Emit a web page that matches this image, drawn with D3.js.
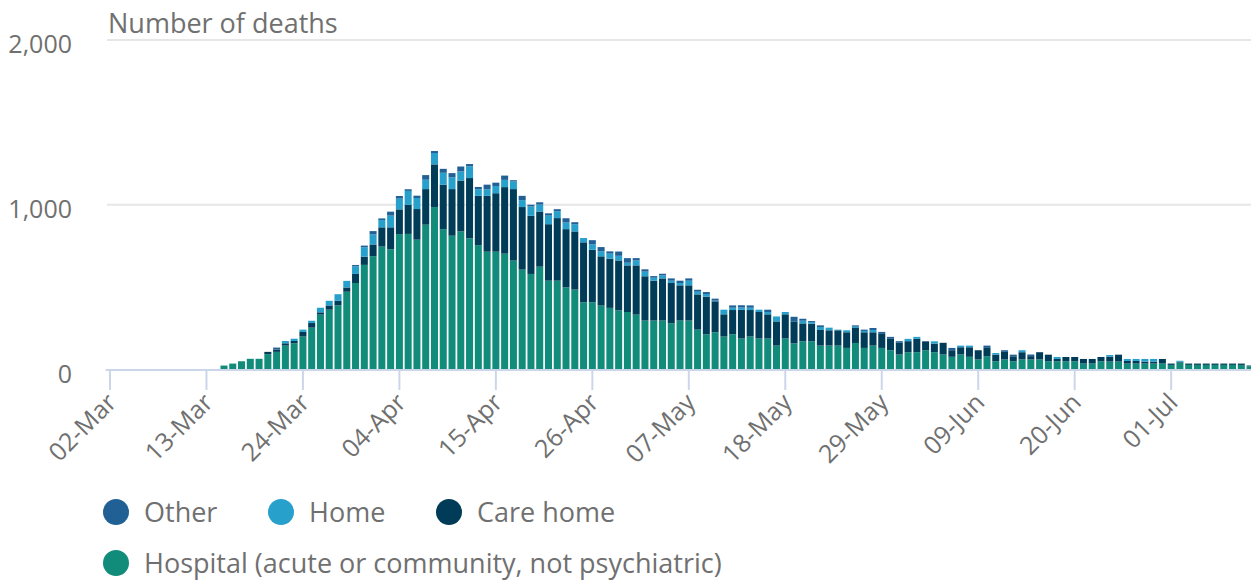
<!DOCTYPE html>
<html>
<head>
  <meta charset="utf-8">
  <script src="https://d3js.org/d3.v7.min.js"></script>
  <style>
  body{
    margin:0;
    background:#fff;
  }
  text{
    font-family:"Open Sans", sans-serif;
    fill:#707070;
  }
  .grid line{
    stroke:#e6e6e6;
    stroke-width:2px;
  }
  </style>
</head>
<body>
  <svg width="1251" height="582"></svg>
<script>
// daily deaths by place of death, 02-Mar to 10-Jul
var startDate = new Date(2020, 2, 2);
var nDays = 131;

var hospital = [0,0,0,0,0,0,0,0,0,0,0,0,0,24,36,50,65,65,93,107,
  145,159,200,254,333,363,389,472,525,635,688,746,730,822,823,788,879,986,852,812,
  838,796,755,715,715,703,661,606,580,624,539,539,499,485,408,408,388,374,359,349,
  333,297,297,297,281,297,297,242,214,226,200,214,188,200,188,188,145,188,159,171,
  171,145,145,145,131,161,131,145,131,117,91,105,105,117,105,91,77,91,77,61,
  81,50,61,50,61,61,61,50,50,50,50,36,36,50,48,48,36,36,36,36,
  36,28,42,28,28,28,28,28,28,28,20];

var careHome = [0,0,0,0,0,0,0,0,0,0,0,0,0,0,0,0,0,0,14,14,
  14,14,28,28,14,26,28,26,55,50,71,117,133,150,176,186,216,259,269,283,
  309,366,299,339,355,404,434,380,353,335,343,380,353,353,364,319,299,299,303,283,
  299,269,242,256,244,214,214,214,228,188,135,147,174,161,161,147,147,147,133,109,
  107,95,93,93,95,91,95,81,85,69,71,67,81,54,52,71,40,44,58,56,
  50,40,46,30,44,20,44,40,14,26,26,28,28,26,30,42,16,16,12,12,
  28,8,5,8,8,8,8,8,8,8,4];

var home = [0,0,0,0,0,0,0,0,0,0,0,0,0,0,0,0,0,0,0,0,
  14,14,14,14,28,28,40,40,46,57,61,44,71,65,85,67,57,69,73,71,
  55,71,40,40,44,44,46,42,57,42,52,42,40,44,26,32,30,30,28,16,
  30,28,18,18,14,14,28,16,16,4,28,14,14,14,14,14,30,14,0,16,
  10,18,16,4,12,8,8,14,0,0,0,14,12,0,14,0,0,10,10,0,
  0,10,0,0,12,0,0,0,12,0,0,0,0,0,10,0,12,12,16,16,
  0,0,6,0,0,0,0,0,0,0,0];

var other = [0,0,0,0,0,0,0,0,0,0,0,0,0,0,0,0,0,0,0,12,
  0,0,0,0,0,0,0,0,8,10,20,10,24,16,10,14,28,12,24,26,
  30,14,14,28,20,26,8,26,10,14,14,12,26,12,0,26,26,14,26,28,
  14,14,10,10,14,14,14,12,12,12,0,14,14,14,0,14,0,0,28,12,
  6,10,0,0,0,8,8,12,12,12,10,0,0,0,0,0,14,0,0,0,
  14,0,10,10,0,10,0,0,0,0,0,0,0,0,0,0,0,0,0,0,
  0,0,0,0,0,0,0,0,0,0,0];

var tickLabels = ["02-Mar","13-Mar","24-Mar","04-Apr","15-Apr","26-Apr",
  "07-May","18-May","29-May","09-Jun","20-Jun","01-Jul"];
var yTicks = [0, 1000, 2000];

var seriesKeys = ["hospital","careHome","home","other"];
var colours = {hospital:"#118c7b", careHome:"#003c57", home:"#27a0cc", other:"#206095"};
var legendItems = [
  {key:"other", label:"Other"},
  {key:"home", label:"Home"},
  {key:"careHome", label:"Care home"},
  {key:"hospital", label:"Hospital (acute or community, not psychiatric)"}
];

var fmt = d3.timeFormat("%d-%b");
var days = d3.range(nDays).map(function(i){ return d3.timeDay.offset(startDate, i); });
var data = days.map(function(d, i){
  return {day:fmt(d), hospital:hospital[i], careHome:careHome[i], home:home[i], other:other[i]};
});

var svg = d3.select("svg");
var plotLeft = 105.6, step = 8.77;

var x = d3.scaleBand()
  .domain(data.map(function(d){ return d.day; }))
  .range([plotLeft, plotLeft + step * nDays])
  .paddingInner(0.2)
  .paddingOuter(0.1);

var y = d3.scaleLinear().domain([0, 2000]).range([369.5, 40]);

// gridlines (not at zero)
svg.append("g").attr("class","grid")
  .selectAll("line")
  .data(yTicks.filter(function(t){ return t > 0; }))
  .enter().append("line")
  .attr("x1", 107).attr("x2", 1251)
  .attr("y1", function(d){ return y(d); })
  .attr("y2", function(d){ return y(d); });

// y labels
svg.append("g")
  .selectAll("text")
  .data(yTicks)
  .enter().append("text")
  .attr("x", 72)
  .attr("y", function(d){ return y(d) + 13; })
  .attr("text-anchor","end")
  .style("font-size","25px")
  .text(function(d){ return d3.format(",")(d); });

svg.append("text")
  .attr("x", 108)
  .attr("y", 33)
  .style("font-size","27px")
  .text("Number of deaths");

// stacked bars
var stacked = d3.stack().keys(seriesKeys)(data);

svg.append("g")
  .selectAll("g")
  .data(stacked)
  .enter().append("g")
  .attr("fill", function(s){ return colours[s.key]; })
  .selectAll("rect")
  .data(function(s){ return s; })
  .enter().append("rect")
  .attr("x", function(d){ return x(d.data.day); })
  .attr("y", function(d){ return y(d[1]); })
  .attr("width", x.bandwidth())
  .attr("height", function(d){ return y(d[0]) - y(d[1]); });

// x axis
var xAxis = svg.append("g");
xAxis.append("line")
  .attr("x1", plotLeft).attr("x2", 1251)
  .attr("y1", 370).attr("y2", 370)
  .attr("stroke","#ccd6eb").attr("stroke-width",2);

var ticks = xAxis.selectAll(".tick")
  .data(tickLabels)
  .enter().append("g")
  .attr("class","tick")
  .attr("transform", function(d){ return "translate(" + (x(d) + x.bandwidth() / 2) + ",0)"; });

ticks.append("line")
  .attr("y1", 370).attr("y2", 390)
  .attr("stroke","#ccd6eb").attr("stroke-width",2);

ticks.append("text")
  .attr("transform","translate(8,404) rotate(-45)")
  .attr("text-anchor","end")
  .style("font-size","25px")
  .text(function(d){ return d; });

// legend
var legendPos = [[116,512],[281,512],[449,512],[116,563]];
var legend = svg.append("g")
  .selectAll("g")
  .data(legendItems)
  .enter().append("g")
  .attr("transform", function(d, i){ return "translate(" + legendPos[i][0] + "," + legendPos[i][1] + ")"; });

legend.append("circle")
  .attr("r", 13)
  .attr("fill", function(d){ return colours[d.key]; });

legend.append("text")
  .attr("x", 28)
  .attr("y", 10)
  .style("font-size","27px")
  .text(function(d){ return d.label; });
</script>
</body>
</html>
